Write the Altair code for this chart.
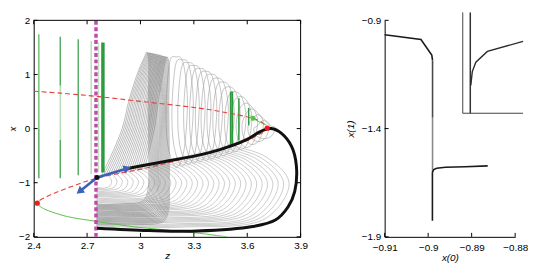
import altair as alt
import numpy as np
import pandas as pd

# ================= LEFT PANEL (z, x) =================
Z_TICKS = [2.4, 2.7, 3.0, 3.3, 3.6, 3.9]
X_TICKS = [-2, -1, 0, 1, 2]
Z_DOMAIN = [2.4, 3.9]
X_DOMAIN = [-2, 2]

RED_Z = [2.40, 2.55, 2.75, 3.00, 3.32, 3.484, 3.632, 3.681, 3.712, 3.695, 3.676, 3.593,
         3.429, 3.265, 3.046, 2.756, 2.608, 2.499, 2.427, 2.42]
RED_X = [0.69, 0.655, 0.596, 0.502, 0.382, 0.293, 0.187, 0.116, 0.009, -0.062, -0.092, -0.23,
         -0.418, -0.542, -0.72, -0.916, -1.076, -1.218, -1.342, -1.378]
RED_DOT_Z = [2.42, 3.712]
RED_DOT_X = [-1.378, 0.009]
GREEN_DOT_Z = [3.633]
GREEN_DOT_X = [0.19]
BLACK_DOT_Z = [2.756]
BLACK_DOT_X = [-0.903]
ARROW_TIP_Z = [2.92, 2.663]
ARROW_TIP_X = [-0.743, -1.147]
ARROW_ANGLE = [73, 231]
MAGENTA_Z = [2.75]

GREEN_LOW_Z = [2.42, 2.427, 2.445, 2.499, 2.59, 2.756, 2.953, 3.32, 3.484]
GREEN_LOW_X = [-1.378, -1.41, -1.46, -1.537, -1.626, -1.716, -1.81, -1.93, -2.0]
GREEN_TOP_Z = [3.615, 3.633, 3.67, 3.708]
GREEN_TOP_X = [0.24, 0.19, 0.12, 0.065]

GL_Z = [2.429, 2.429, 2.549, 2.549, 2.549, 2.650, 2.723, 2.765, 2.789, 3.507, 3.516, 3.553, 3.608]
GL_TOP = [1.745, 0.0, 1.698, 0.79, -0.21, 1.65, 1.62, 1.59, 1.59, 0.684, 0.684, 0.56, 0.382]
GL_BOT = [0.0, -0.916, 0.79, -0.21, -0.916, -0.86, -0.84, -0.80, -0.81, -0.30, -0.30, -0.22, 0.06]
GL_SHADE = ["mid", "dark", "dark", "light", "dark", "dark", "light", "light", "dark",
            "dark", "dark", "dark", "dark"]
GL_WIDTH = [1.2, 1.2, 1.2, 1.2, 1.2, 1.2, 1.2, 0.8, 3.5, 1.8, 1.8, 1.5, 1.5]

BLACK_Z = [2.756, 3.046, 3.32, 3.63, 3.758, 3.829, 3.867, 3.876, 3.849, 3.794, 3.735, 3.676,
           3.593, 3.447, 3.32, 3.10, 2.92]
BLACK_X = [-1.84, -1.884, -1.893, -1.81, -1.69, -1.449, -1.159, -0.684, -0.329, -0.093, 0.0,
           -0.05, -0.21, -0.388, -0.494, -0.63, -0.743]

OVAL_TOP_Z = [3.199, 3.232, 3.265, 3.298, 3.331, 3.364, 3.396, 3.429, 3.462, 3.495, 3.528,
              3.561, 3.593, 3.626, 3.659, 3.692]
OVAL_TOP_X = [1.324, 1.271, 1.218, 1.164, 1.111, 1.058, 1.004, 0.933, 0.862, 0.773, 0.684,
              0.596, 0.471, 0.364, 0.258, 0.151]

WEDGE_TOP_Z = [3.035, 3.041, 3.047, 3.053, 3.059, 3.065, 3.071, 3.077, 3.083, 3.089,
               3.096, 3.102, 3.108, 3.114, 3.120, 3.126, 3.132, 3.138, 3.144, 3.150]
WEDGE_TOP_X = [1.41, 1.41, 1.405, 1.40, 1.40, 1.395, 1.39, 1.385, 1.38, 1.375,
               1.37, 1.365, 1.36, 1.355, 1.35, 1.345, 1.34, 1.335, 1.33, 1.325]
WEDGE_START_X = [-1.40, -1.42, -1.44, -1.46, -1.48, -1.50, -1.52, -1.54, -1.56, -1.58,
                 -1.60, -1.62, -1.64, -1.66, -1.68, -1.70, -1.72, -1.74, -1.76, -1.78]
WEDGE_END_Z = [2.775, 2.788, 2.801, 2.814, 2.827, 2.840, 2.853, 2.866, 2.879, 2.892,
               2.905, 2.918, 2.931, 2.944, 2.957, 2.970, 2.983, 2.996, 3.009, 3.022]

ARC_RIGHT_Z = [2.838, 2.868, 2.898, 2.929, 2.959, 2.989, 3.019, 3.049, 3.080, 3.110, 3.140,
               3.170, 3.200, 3.231, 3.261, 3.291, 3.321, 3.351, 3.382, 3.412, 3.442, 3.472,
               3.502, 3.533, 3.563, 3.593, 3.623, 3.653, 3.684, 3.714, 3.744, 3.774, 3.804, 3.835]
ARC_BOTTOM_X = [-1.08, -1.10, -1.12, -1.15, -1.17, -1.19, -1.21, -1.23, -1.25, -1.28, -1.30,
                -1.32, -1.34, -1.36, -1.39, -1.41, -1.43, -1.45, -1.47, -1.49, -1.52, -1.54,
                -1.56, -1.58, -1.60, -1.63, -1.65, -1.67, -1.69, -1.71, -1.74, -1.76, -1.78, -1.80]

# ================= RIGHT PANEL (x(0), x(1)) =================
R_X_TICKS = [-0.91, -0.90, -0.89, -0.88]
R_Y_TICKS = [-1.9, -1.4, -0.9]
R_X_DOMAIN = [-0.91, -0.88]
R_Y_DOMAIN = [-1.9, -0.9]
CURVE_SEG = ["a", "a", "a", "a", "b", "b", "c", "c", "d", "d", "d", "d", "d", "d", "d"]
CURVE_X0 = [-0.91, -0.90165, -0.89917, -0.89899, -0.89899, -0.89899, -0.89899, -0.89899,
            -0.88631, -0.8915, -0.89602, -0.89805, -0.89872, -0.89902, -0.89902]
CURVE_X1 = [-0.9667, -0.9889, -1.06, -1.085, -1.085, -1.35, -1.35, -1.60,
            -1.5724, -1.5764, -1.5787, -1.583, -1.5889, -1.6022, -1.8258]
SEG_COLOR = {"a": "#1a1a1a", "b": "#4a4a4a", "c": "#8a8a8a", "d": "#1a1a1a"}

INSET_X_DOMAIN = [-0.8992, -0.8980]
INSET_Y_DOMAIN = [-1.64, -1.56]
INSET_V_X = [-0.89905, -0.89905]
INSET_V_Y = [-1.64, -1.56]
INSET_B_X = [-0.89904, -0.89901, -0.89894, -0.89871, -0.8980]
INSET_B_Y = [-1.6179, -1.6069, -1.5995, -1.5909, -1.583]

# ---------------- layout (pixels inside the plot area) ----------------
H_ = 219
L_RANGE = [0, 270]
R_RANGE = [355, 487]
I_X_RANGE = [434, 495]
I_Y_RANGE = [94, -8]
TICK_PX = 4
FONT = "Liberation Sans"

# ---------------- build tables ----------------
red_low_z = RED_Z[8:][::-1]
red_low_x = RED_X[8:][::-1]


def red_lower(z):
    return float(np.interp(z, red_low_z, red_low_x))


wedge_rows = []
for k in range(len(WEDGE_TOP_Z)):
    tz, tx, xb, we = WEDGE_TOP_Z[k], WEDGE_TOP_X[k], WEDGE_START_X[k], WEDGE_END_Z[k]
    rz = tz + 0.012
    yw = red_lower(we)
    dz, dx = tz - we, tx - yw
    pts = [(2.752, xb), (2.90, xb + 0.01), (rz - 0.035, xb + 0.06), (rz - 0.006, xb + 0.25),
           (rz, xb + 0.8), (rz - 0.003, 0.4), (tz + 0.009, tx - 0.09), (tz, tx),
           (tz - 0.01, tx - 0.07)]
    for fz, fx in [(0.17, 0.14), (0.38, 0.38), (0.53, 0.61), (0.80, 0.85), (1.0, 1.0)]:
        pts.append((tz - fz * dz, tx - fx * dx))
    for i, (a, b) in enumerate(pts):
        wedge_rows.append({"id": k, "ord": i, "z": a, "x": b})
wedge_df = pd.DataFrame(wedge_rows)

oval_rows = []
for k in range(len(OVAL_TOP_Z)):
    tz, tx = OVAL_TOP_Z[k], OVAL_TOP_X[k]
    bx = red_lower(tz) - 0.12
    H = tx - bx
    pts = [(tz, tx), (tz + 0.04, tx - 0.10), (tz + 0.065, tx - 0.40 * H),
           (tz + 0.045, bx + 0.15 * H), (tz, bx), (tz - 0.045, bx + 0.2 * H),
           (tz - 0.055, tx - 0.45 * H), (tz - 0.035, tx - 0.10)]
    for i, (a, b) in enumerate(pts):
        oval_rows.append({"id": k, "ord": i, "z": a, "x": b})
oval_df = pd.DataFrame(oval_rows)

arc_rows = []
for k in range(len(ARC_RIGHT_Z)):
    R, yb = ARC_RIGHT_Z[k], ARC_BOTTOM_X[k]
    a = R - 2.755
    zs = 2.755 + 0.68 * a
    yt = red_lower(zs)
    H = yt - yb
    pts = [(zs, yt + 0.05), (R - 0.12 * a, yt - 0.12 * H), (R, yt - 0.45 * H),
           (R - 0.12 * a, yt - 0.9 * H), (2.755 + 0.45 * a, yb - 0.02), (2.752, yb)]
    for i, (p, q) in enumerate(pts):
        arc_rows.append({"id": k, "ord": i, "z": p, "x": q})
arc_df = pd.DataFrame(arc_rows)

zs_ = alt.Scale(domain=Z_DOMAIN, range=L_RANGE, nice=False, zero=False)
xs_ = alt.Scale(domain=X_DOMAIN, range=[H_, 0], nice=False, zero=False)

COMMON = dict(format="~g", tickSize=0, tickOpacity=0, grid=False, labelFlush=False,
              labelFont=FONT, titleFont=FONT, labelFontSize=10, labelColor="black",
              titleColor="black", titleFontWeight="normal", titleFontStyle="italic",
              domainColor="black", domainWidth=1)
AX_Z = alt.Axis(orient="bottom", values=Z_TICKS, labelPadding=4, title="z", titlePadding=0,
                titleFontSize=10, **COMMON)
AX_X = alt.Axis(orient="left", values=X_TICKS, labelPadding=4, title="x", titlePadding=1,
                titleFontSize=9, **COMMON)


def Zq(field="z"):
    return alt.X(f"{field}:Q", scale=zs_, axis=AX_Z)


def Xq(field="x"):
    return alt.Y(f"{field}:Q", scale=xs_, axis=AX_X)


gl_df = pd.DataFrame({"z": GL_Z, "top": GL_TOP, "bot": GL_BOT, "shade": GL_SHADE, "w": GL_WIDTH})
green_lines = alt.Chart(gl_df).mark_rule().encode(
    x=Zq(), y=Xq("top"), y2="bot:Q",
    color=alt.Color("shade:N", scale=alt.Scale(domain=["dark", "mid", "light"],
                                               range=["#2e9a3f", "#52b35a", "#a6d9a6"]), legend=None),
    strokeWidth=alt.StrokeWidth("w:Q", scale=None))

arcs = alt.Chart(arc_df).mark_line(interpolate="catmull-rom", color="#ababab", strokeWidth=0.6,
                                   clip=True).encode(
    x=Zq(), y=Xq(), detail="id:N", order="ord:Q")
ovals = alt.Chart(oval_df).mark_line(interpolate="cardinal-closed", color="#a0a0a0",
                                     strokeWidth=0.6, clip=True).encode(
    x=Zq(), y=Xq(), detail="id:N", order="ord:Q")
wedge = alt.Chart(wedge_df).mark_line(interpolate="catmull-rom", color="#858585",
                                      strokeWidth=0.55, clip=True).encode(
    x=Zq(), y=Xq(), detail="id:N", order="ord:Q")

red_df = pd.DataFrame({"z": RED_Z, "x": RED_X, "ord": range(len(RED_Z))})
red = alt.Chart(red_df).mark_line(interpolate="catmull-rom", color="#e8413c", strokeWidth=1.1,
                                  strokeDash=[5, 3], clip=True).encode(
    x=Zq(), y=Xq(), order="ord:Q")

glow_df = pd.DataFrame({"z": GREEN_LOW_Z, "x": GREEN_LOW_X, "ord": range(len(GREEN_LOW_Z))})
gtop_df = pd.DataFrame({"z": GREEN_TOP_Z, "x": GREEN_TOP_X, "ord": range(len(GREEN_TOP_Z))})
green_low = alt.Chart(glow_df).mark_line(interpolate="catmull-rom", color="#5cbf4c",
                                         strokeWidth=1, clip=True).encode(
    x=Zq(), y=Xq(), order="ord:Q")
green_top = alt.Chart(gtop_df).mark_line(interpolate="catmull-rom", color="#5cbf4c",
                                         strokeWidth=1, clip=True).encode(
    x=Zq(), y=Xq(), order="ord:Q")

mag_df = pd.DataFrame({"z": MAGENTA_Z, "y0": [X_DOMAIN[0]], "y1": [X_DOMAIN[1]]})
mag = alt.Chart(mag_df).mark_rule(color="#c24aa9", strokeWidth=3.5,
                                  strokeDash=[4, 2.5]).encode(x=Zq(), y=Xq("y0"), y2="y1:Q")

black_df = pd.DataFrame({"z": BLACK_Z, "x": BLACK_X, "ord": range(len(BLACK_Z))})
black = alt.Chart(black_df).mark_line(interpolate="catmull-rom", color="#111111",
                                      strokeWidth=3, clip=True).encode(
    x=Zq(), y=Xq(), order="ord:Q")

arrow_rows = []
for i in range(2):
    arrow_rows.append({"id": i, "ord": 0, "z": BLACK_DOT_Z[0], "x": BLACK_DOT_X[0]})
    arrow_rows.append({"id": i, "ord": 1, "z": ARROW_TIP_Z[i], "x": ARROW_TIP_X[i]})
arrow_df = pd.DataFrame(arrow_rows)
shafts = alt.Chart(arrow_df).mark_line(color="#3a62b8", strokeWidth=2.6).encode(
    x=Zq(), y=Xq(), detail="id:N", order="ord:Q")
heads_df = pd.DataFrame({"z": ARROW_TIP_Z, "x": ARROW_TIP_X, "ang": ARROW_ANGLE})
heads = alt.Chart(heads_df).mark_point(shape="triangle", filled=True, color="#3a62b8",
                                       size=75, opacity=1).encode(
    x=Zq(), y=Xq(), angle=alt.Angle("ang:Q", scale=None))

red_dots = alt.Chart(pd.DataFrame({"z": RED_DOT_Z, "x": RED_DOT_X})).mark_circle(
    color="#ee1c1c", size=28, opacity=1).encode(x=Zq(), y=Xq())
green_dot = alt.Chart(pd.DataFrame({"z": GREEN_DOT_Z, "x": GREEN_DOT_X})).mark_circle(
    color="#5cbf4c", size=26, opacity=1).encode(x=Zq(), y=Xq())
black_dot = alt.Chart(pd.DataFrame({"z": BLACK_DOT_Z, "x": BLACK_DOT_X})).mark_circle(
    color="#111111", size=26, opacity=1).encode(x=Zq(), y=Xq())

# inward ticks and the top/right frame of the left panel
tz_len = TICK_PX / (L_RANGE[1] - L_RANGE[0]) * (Z_DOMAIN[1] - Z_DOMAIN[0])
tx_len = TICK_PX / H_ * (X_DOMAIN[1] - X_DOMAIN[0])
tick_rows = []
for v in Z_TICKS:
    tick_rows.append({"a": v, "a2": v, "b": X_DOMAIN[0], "b2": X_DOMAIN[0] + tx_len})
    tick_rows.append({"a": v, "a2": v, "b": X_DOMAIN[1], "b2": X_DOMAIN[1] - tx_len})
for v in X_TICKS:
    tick_rows.append({"a": Z_DOMAIN[0], "a2": Z_DOMAIN[0] + tz_len, "b": v, "b2": v})
    tick_rows.append({"a": Z_DOMAIN[1], "a2": Z_DOMAIN[1] - tz_len, "b": v, "b2": v})
tick_rows.append({"a": Z_DOMAIN[0], "a2": Z_DOMAIN[1], "b": X_DOMAIN[1], "b2": X_DOMAIN[1]})
tick_rows.append({"a": Z_DOMAIN[1], "a2": Z_DOMAIN[1], "b": X_DOMAIN[0], "b2": X_DOMAIN[1]})
ticks_left = alt.Chart(pd.DataFrame(tick_rows)).mark_rule(color="black", strokeWidth=1).encode(
    x=Zq("a"), x2="a2:Q", y=Xq("b"), y2="b2:Q")

left = alt.layer(arcs, ovals, wedge, green_lines, red, green_low, green_top, mag, black,
                 shafts, heads, red_dots, green_dot, black_dot, ticks_left)

# ---------------- right panel ----------------
rxs = alt.Scale(domain=R_X_DOMAIN, range=R_RANGE, nice=False, zero=False)
rys = alt.Scale(domain=R_Y_DOMAIN, range=[H_, 0], nice=False, zero=False)
AX_R0 = alt.Axis(orient="bottom", values=R_X_TICKS, labelPadding=6, title="x(0)",
                 titlePadding=0, titleFontSize=10, **COMMON)
AX_R1 = alt.Axis(orient="left", offset=-R_RANGE[0], values=R_Y_TICKS, labelPadding=4,
                 title="x(1)", titlePadding=6, titleFontSize=10, **COMMON)
curve_df = pd.DataFrame({"x0": CURVE_X0, "x1": CURVE_X1, "seg": CURVE_SEG,
                         "ord": range(len(CURVE_X0))})
curve_df["col"] = curve_df["seg"].map(SEG_COLOR)
curve = alt.Chart(curve_df).mark_line(strokeWidth=1.6).encode(
    x=alt.X("x0:Q", scale=rxs, axis=AX_R0),
    y=alt.Y("x1:Q", scale=rys, axis=AX_R1),
    detail="seg:N", order="ord:Q", color=alt.Color("col:N", scale=None))
rx_len = TICK_PX / (R_RANGE[1] - R_RANGE[0]) * (R_X_DOMAIN[1] - R_X_DOMAIN[0])
ry_len = TICK_PX / H_ * (R_Y_DOMAIN[1] - R_Y_DOMAIN[0])
rt_rows = []
for v in R_X_TICKS:
    rt_rows.append({"x0": v, "x0b": v, "x1": R_Y_DOMAIN[0], "x1b": R_Y_DOMAIN[0] + ry_len})
for v in R_Y_TICKS:
    rt_rows.append({"x0": R_X_DOMAIN[0], "x0b": R_X_DOMAIN[0] + rx_len, "x1": v, "x1b": v})
rticks = alt.Chart(pd.DataFrame(rt_rows)).mark_rule(color="black", strokeWidth=1).encode(
    x=alt.X("x0:Q", scale=rxs, axis=AX_R0), x2="x0b:Q",
    y=alt.Y("x1:Q", scale=rys, axis=AX_R1), y2="x1b:Q")
main_right = alt.layer(curve, rticks)

ixs = alt.Scale(domain=INSET_X_DOMAIN, range=I_X_RANGE, nice=False, zero=False)
iys = alt.Scale(domain=INSET_Y_DOMAIN, range=I_Y_RANGE, nice=False, zero=False)
frame_df = pd.DataFrame({"x": [INSET_X_DOMAIN[0], INSET_X_DOMAIN[0], INSET_X_DOMAIN[1]],
                         "y": [INSET_Y_DOMAIN[1], INSET_Y_DOMAIN[0], INSET_Y_DOMAIN[0]],
                         "ord": [0, 1, 2]})
frame = alt.Chart(frame_df).mark_line(color="#444444", strokeWidth=1).encode(
    x=alt.X("x:Q", scale=ixs, axis=None), y=alt.Y("y:Q", scale=iys, axis=None), order="ord:Q")
iv_df = pd.DataFrame({"x": INSET_V_X, "y": INSET_V_Y})
ivert = alt.Chart(iv_df).mark_line(color="#333333", strokeWidth=1.5).encode(
    x=alt.X("x:Q", scale=ixs, axis=None), y=alt.Y("y:Q", scale=iys, axis=None))
ib_df = pd.DataFrame({"x": INSET_B_X, "y": INSET_B_Y, "ord": range(len(INSET_B_X))})
ibranch = alt.Chart(ib_df).mark_line(color="#2a2a2a", strokeWidth=1.4).encode(
    x=alt.X("x:Q", scale=ixs, axis=None), y=alt.Y("y:Q", scale=iys, axis=None), order="ord:Q")
inset = alt.layer(frame, ivert, ibranch)

right = alt.layer(main_right, inset).resolve_scale(x="independent", y="independent")

chart = alt.layer(left, right).resolve_scale(x="independent", y="independent").properties(
    width=R_RANGE[1], height=H_,
    padding={"left": 0, "top": 0, "right": 0, "bottom": 0}
).configure_view(stroke="transparent")

chart.save("out.html", embed_options={"renderer": "svg", "actions": False})
